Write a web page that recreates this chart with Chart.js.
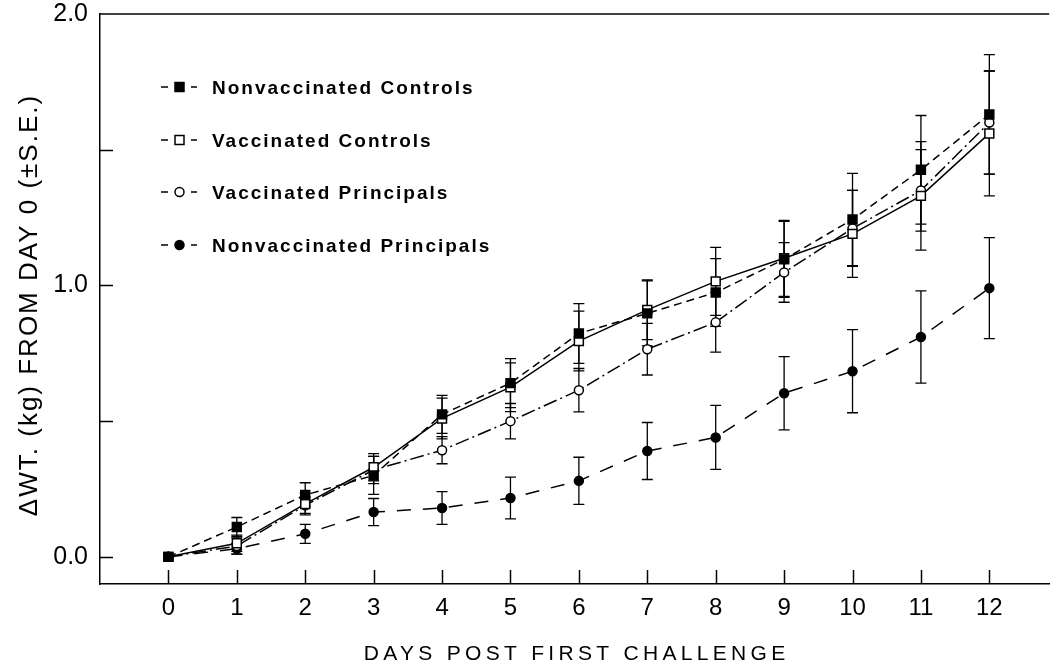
<!DOCTYPE html>
<html><head><meta charset="utf-8">
<script src="https://cdn.jsdelivr.net/npm/chart.js@4.4.1/dist/chart.umd.min.js"></script>
<style>html,body{margin:0;padding:0;background:#fff}canvas{display:block}</style>
</head><body>
<canvas id="c" width="1057" height="663"></canvas>
<script>
// ---- data ----
const days = [0,1,2,3,4,5,6,7,8,9,10,11,12];
const seriesNames = ['Nonvaccinated Controls','Vaccinated Controls','Vaccinated Principals','Nonvaccinated Principals'];
const nonvaccControls   = [0, 0.11, 0.228, 0.30, 0.525, 0.64, 0.823, 0.897, 0.974, 1.096, 1.243, 1.426, 1.63];
const vaccControls      = [0, 0.05, 0.195, 0.33, 0.51, 0.625, 0.795, 0.91, 1.015, 1.10, 1.19, 1.33, 1.56];
const vaccPrincipals    = [0, 0.04, 0.19, 0.32, 0.393, 0.50, 0.614, 0.765, 0.864, 1.048, 1.21, 1.35, 1.60];
const nonvaccPrincipals = [0, 0.03, 0.085, 0.165, 0.18, 0.217, 0.28, 0.39, 0.44, 0.603, 0.684, 0.81, 0.99];
const nonvaccControlsSE   = [0, 0.035, 0.045, 0.07, 0.07, 0.09, 0.11, 0.12, 0.125, 0.14, 0.17, 0.20, 0.22];
const vaccControlsSE      = [0, 0.03, 0.04, 0.05, 0.075, 0.09, 0.11, 0.11, 0.125, 0.14, 0.16, 0.20, 0.23];
const vaccPrincipalsSE    = [0, 0.03, 0.03, 0.05, 0.05, 0.065, 0.08, 0.095, 0.11, 0.11, 0.14, 0.15, 0.19];
const nonvaccPrincipalsSE = [0, 0.02, 0.035, 0.05, 0.06, 0.077, 0.087, 0.105, 0.118, 0.135, 0.153, 0.17, 0.186];
const xTickValues = [0,1,2,3,4,5,6,7,8,9,10,11,12];
const yTickValues = [0,0.5,1,1.5,2];
const yTickLabels = ['0.0','','1.0','','2.0'];
const xTitle = 'DAYS POST FIRST CHALLENGE';
const yTitle = '\u0394WT. (kg) FROM DAY 0 (\u00B1S.E.)';

const FONT = '"Liberation Sans", Arial, Helvetica, sans-serif';
const styles = [
  {dash:[8,5], point:'rect', r:6.3, fill:'#000'},
  {dash:[], point:'rect', r:6.3, fill:'#fff'},
  {dash:[14,4,2,4], point:'circle', r:4.5, fill:'#fff'},
  {dash:[14,12], point:'circle', r:4.5, fill:'#000'}
];
const values = [nonvaccControls, vaccControls, vaccPrincipals, nonvaccPrincipals];
const errors = [nonvaccControlsSE, vaccControlsSE, vaccPrincipalsSE, nonvaccPrincipalsSE];

const datasets = seriesNames.map((name, i) => ({
  label: name,
  data: days.map((d, j) => ({x: d, y: values[i][j]})),
  se: errors[i],
  borderColor: '#000',
  borderWidth: 1.5,
  borderDash: styles[i].dash,
  tension: 0,
  fill: false,
  pointStyle: styles[i].point,
  pointRadius: styles[i].r,
  pointHoverRadius: styles[i].r,
  pointBackgroundColor: styles[i].fill,
  pointBorderColor: '#000',
  pointBorderWidth: 1.5
}));

const decor = {
  id: 'decor',
  beforeDatasetsDraw(chart) {
    const ctx = chart.ctx, xs = chart.scales.x, ys = chart.scales.y;
    ctx.save();
    ctx.strokeStyle = '#000';
    ctx.lineWidth = 1.3;
    ctx.setLineDash([]);
    chart.data.datasets.forEach(ds => {
      ds.data.forEach((p, j) => {
        const se = ds.se[j];
        if (!se) return;
        const x = xs.getPixelForValue(p.x);
        const yt = ys.getPixelForValue(p.y + se);
        const yb = ys.getPixelForValue(p.y - se);
        ctx.beginPath();
        ctx.moveTo(x, yt); ctx.lineTo(x, yb);
        ctx.moveTo(x - 5.5, yt); ctx.lineTo(x + 5.5, yt);
        ctx.moveTo(x - 5.5, yb); ctx.lineTo(x + 5.5, yb);
        ctx.stroke();
      });
    });
    ctx.restore();
  },
  afterDraw(chart) {
    const ctx = chart.ctx, a = chart.chartArea, xs = chart.scales.x, ys = chart.scales.y;
    ctx.save();
    ctx.strokeStyle = '#000';
    ctx.fillStyle = '#000';
    ctx.lineWidth = 1.5;
    ctx.setLineDash([]);
    // top border
    ctx.beginPath();
    ctx.moveTo(a.left, a.top); ctx.lineTo(a.right, a.top);
    ctx.stroke();
    // inward ticks
    ctx.beginPath();
    xTickValues.forEach(v => {
      const x = Math.round(xs.getPixelForValue(v)) + 0.5;
      ctx.moveTo(x, a.bottom); ctx.lineTo(x, a.bottom - 14);
    });
    yTickValues.forEach(v => {
      if (v >= 2) return;
      const y = Math.round(ys.getPixelForValue(v)) + 0.5;
      ctx.moveTo(a.left, y); ctx.lineTo(a.left + 13, y);
    });
    ctx.stroke();
    // legend
    const ly = [87, 140, 192, 245];
    ctx.font = 'bold 19px ' + FONT;
    ctx.textBaseline = 'alphabetic';
    ctx.textAlign = 'left';
    ctx.letterSpacing = '2px';
    chart.data.datasets.forEach((ds, i) => {
      const y = ly[i], mx = 179.5;
      ctx.lineWidth = 1.5;
      ctx.beginPath();
      ctx.moveTo(161, y); ctx.lineTo(168, y);
      ctx.moveTo(191, y); ctx.lineTo(197, y);
      ctx.stroke();
      ctx.beginPath();
      if (styles[i].point === 'rect') ctx.rect(mx - 4.5, y - 4.5, 9, 9);
      else ctx.arc(mx, y, 4.5, 0, Math.PI * 2);
      ctx.fillStyle = styles[i].fill; ctx.fill();
      ctx.stroke();
      ctx.fillStyle = '#000';
      ctx.fillText(ds.label, 212, y + 7);
    });
    // axis titles
    ctx.font = '21px ' + FONT;
    ctx.letterSpacing = '4.3px';
    ctx.textAlign = 'center';
    ctx.fillText(xTitle, (a.left + a.right) / 2 + 2, 660);
    ctx.font = '26px ' + FONT;
    ctx.letterSpacing = '2px';
    ctx.translate(37, 305);
    ctx.rotate(-Math.PI / 2);
    ctx.fillText(yTitle, 0, 0);
    ctx.restore();
  }
};

new Chart(document.getElementById('c'), {
  type: 'line',
  data: { datasets },
  options: {
    responsive: false,
    devicePixelRatio: 1,
    animation: false,
    events: [],
    layout: { padding: { top: 14, right: 0, left: 0, bottom: 0 } },
    plugins: { legend: { display: false }, tooltip: { enabled: false } },
    scales: {
      x: {
        type: 'linear', min: -1, max: 12.875,
        afterBuildTicks: s => { s.ticks = xTickValues.map(v => ({ value: v })); },
        afterFit: s => { s.height = 79; s.paddingLeft = 0; s.paddingRight = 0; },
        grid: { display: false, drawTicks: false },
        border: { display: true, color: '#000', width: 1.5 },
        ticks: { font: { family: FONT, size: 24 }, color: '#000', padding: 10, maxRotation: 0, autoSkip: false,
                 callback: v => String(v) }
      },
      y: {
        type: 'linear', min: -0.1, max: 2.0,
        afterBuildTicks: s => { s.ticks = yTickValues.map(v => ({ value: v })); },
        afterFit: s => { s.width = 100; s.paddingTop = 0; s.paddingBottom = 0; },
        grid: { display: false, drawTicks: false },
        border: { display: true, color: '#000', width: 1.5 },
        ticks: { font: { family: FONT, size: 25 }, color: '#000', padding: 12, autoSkip: false,
                 callback: v => yTickLabels[yTickValues.indexOf(v)] }
      }
    }
  },
  plugins: [decor]
});
</script>
</body></html>
